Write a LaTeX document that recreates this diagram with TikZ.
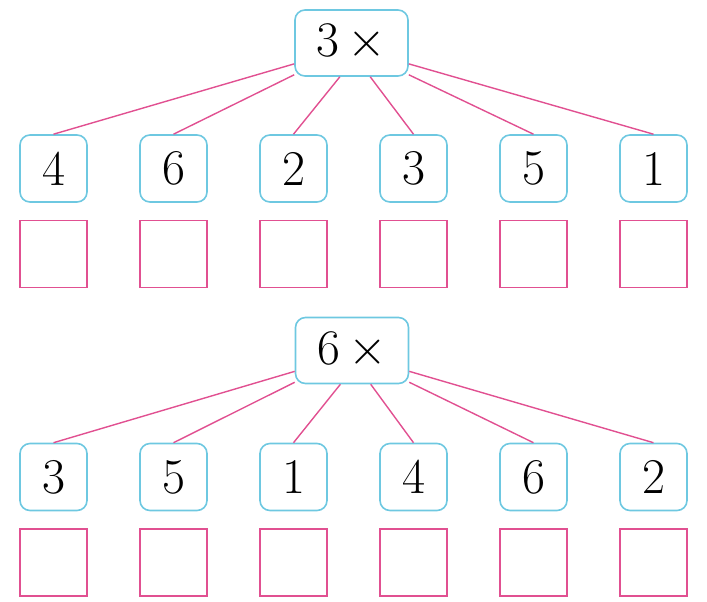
\documentclass[tikz,border=0pt]{standalone}
\usetikzlibrary{positioning}

\definecolor{boxcyan}{RGB}{110,200,225}
\definecolor{linkpink}{RGB}{225,80,145}

\tikzset{
  numbox/.style = {draw=boxcyan, line width=0.8pt, rounded corners=5pt,
    minimum width=33.5pt, minimum height=33.5pt, inner sep=0pt},
  topbox/.style = {numbox, minimum width=56.5pt, minimum height=33pt},
  ansbox/.style = {draw=linkpink, line width=0.8pt,
    minimum width=33.5pt, minimum height=33.5pt, inner sep=0pt},
  link/.style = {draw=linkpink, line width=0.7pt}
}

\begin{document}
\begin{tikzpicture}[x=1pt, y=1pt, node distance = 60pt,
    every node/.style = {font=\fontsize{25}{30}\selectfont}]
    \useasboundingbox (0,0) rectangle (353.5,-300.5);

    % first tree
    \node[topbox] (m1) at (175.75,-21.5) {$3\,\times$};
    \node[numbox] (a1) at (26.75,-84.25) {4};
    \node[numbox] (a2) [right of = a1] {6};
    \node[numbox] (a3) [right of = a2] {2};
    \node[numbox] (a4) [right of = a3] {3};
    \node[numbox] (a5) [right of = a4] {5};
    \node[numbox] (a6) [right of = a5] {1};

    \node[ansbox] (s1) [below = 8.5pt of a1] {};
    \node[ansbox] (s2) [below = 8.5pt of a2] {};
    \node[ansbox] (s3) [below = 8.5pt of a3] {};
    \node[ansbox] (s4) [below = 8.5pt of a4] {};
    \node[ansbox] (s5) [below = 8.5pt of a5] {};
    \node[ansbox] (s6) [below = 8.5pt of a6] {};

    \path[link] (m1.200) -- (a1.north);
    \path[link] (m1.209) -- (a2.north);
    \path[link] (m1.251) -- (a3.north);
    \path[link] (m1.299) -- (a4.north);
    \path[link] (m1.331) -- (a5.north);
    \path[link] (m1.340) -- (a6.north);

    % second tree
    \node[topbox] (m2) at (176,-175.25) {$6\,\times$};
    \node[numbox] (b1) at (26.75,-238.5) {3};
    \node[numbox] (b2) [right of = b1] {5};
    \node[numbox] (b3) [right of = b2] {1};
    \node[numbox] (b4) [right of = b3] {4};
    \node[numbox] (b5) [right of = b4] {6};
    \node[numbox] (b6) [right of = b5] {2};

    \node[ansbox] (t1) [below = 8.5pt of b1] {};
    \node[ansbox] (t2) [below = 8.5pt of b2] {};
    \node[ansbox] (t3) [below = 8.5pt of b3] {};
    \node[ansbox] (t4) [below = 8.5pt of b4] {};
    \node[ansbox] (t5) [below = 8.5pt of b5] {};
    \node[ansbox] (t6) [below = 8.5pt of b6] {};

    \path[link] (m2.200) -- (b1.north);
    \path[link] (m2.209) -- (b2.north);
    \path[link] (m2.251) -- (b3.north);
    \path[link] (m2.299) -- (b4.north);
    \path[link] (m2.331) -- (b5.north);
    \path[link] (m2.340) -- (b6.north);
  \end{tikzpicture}
\end{document}
